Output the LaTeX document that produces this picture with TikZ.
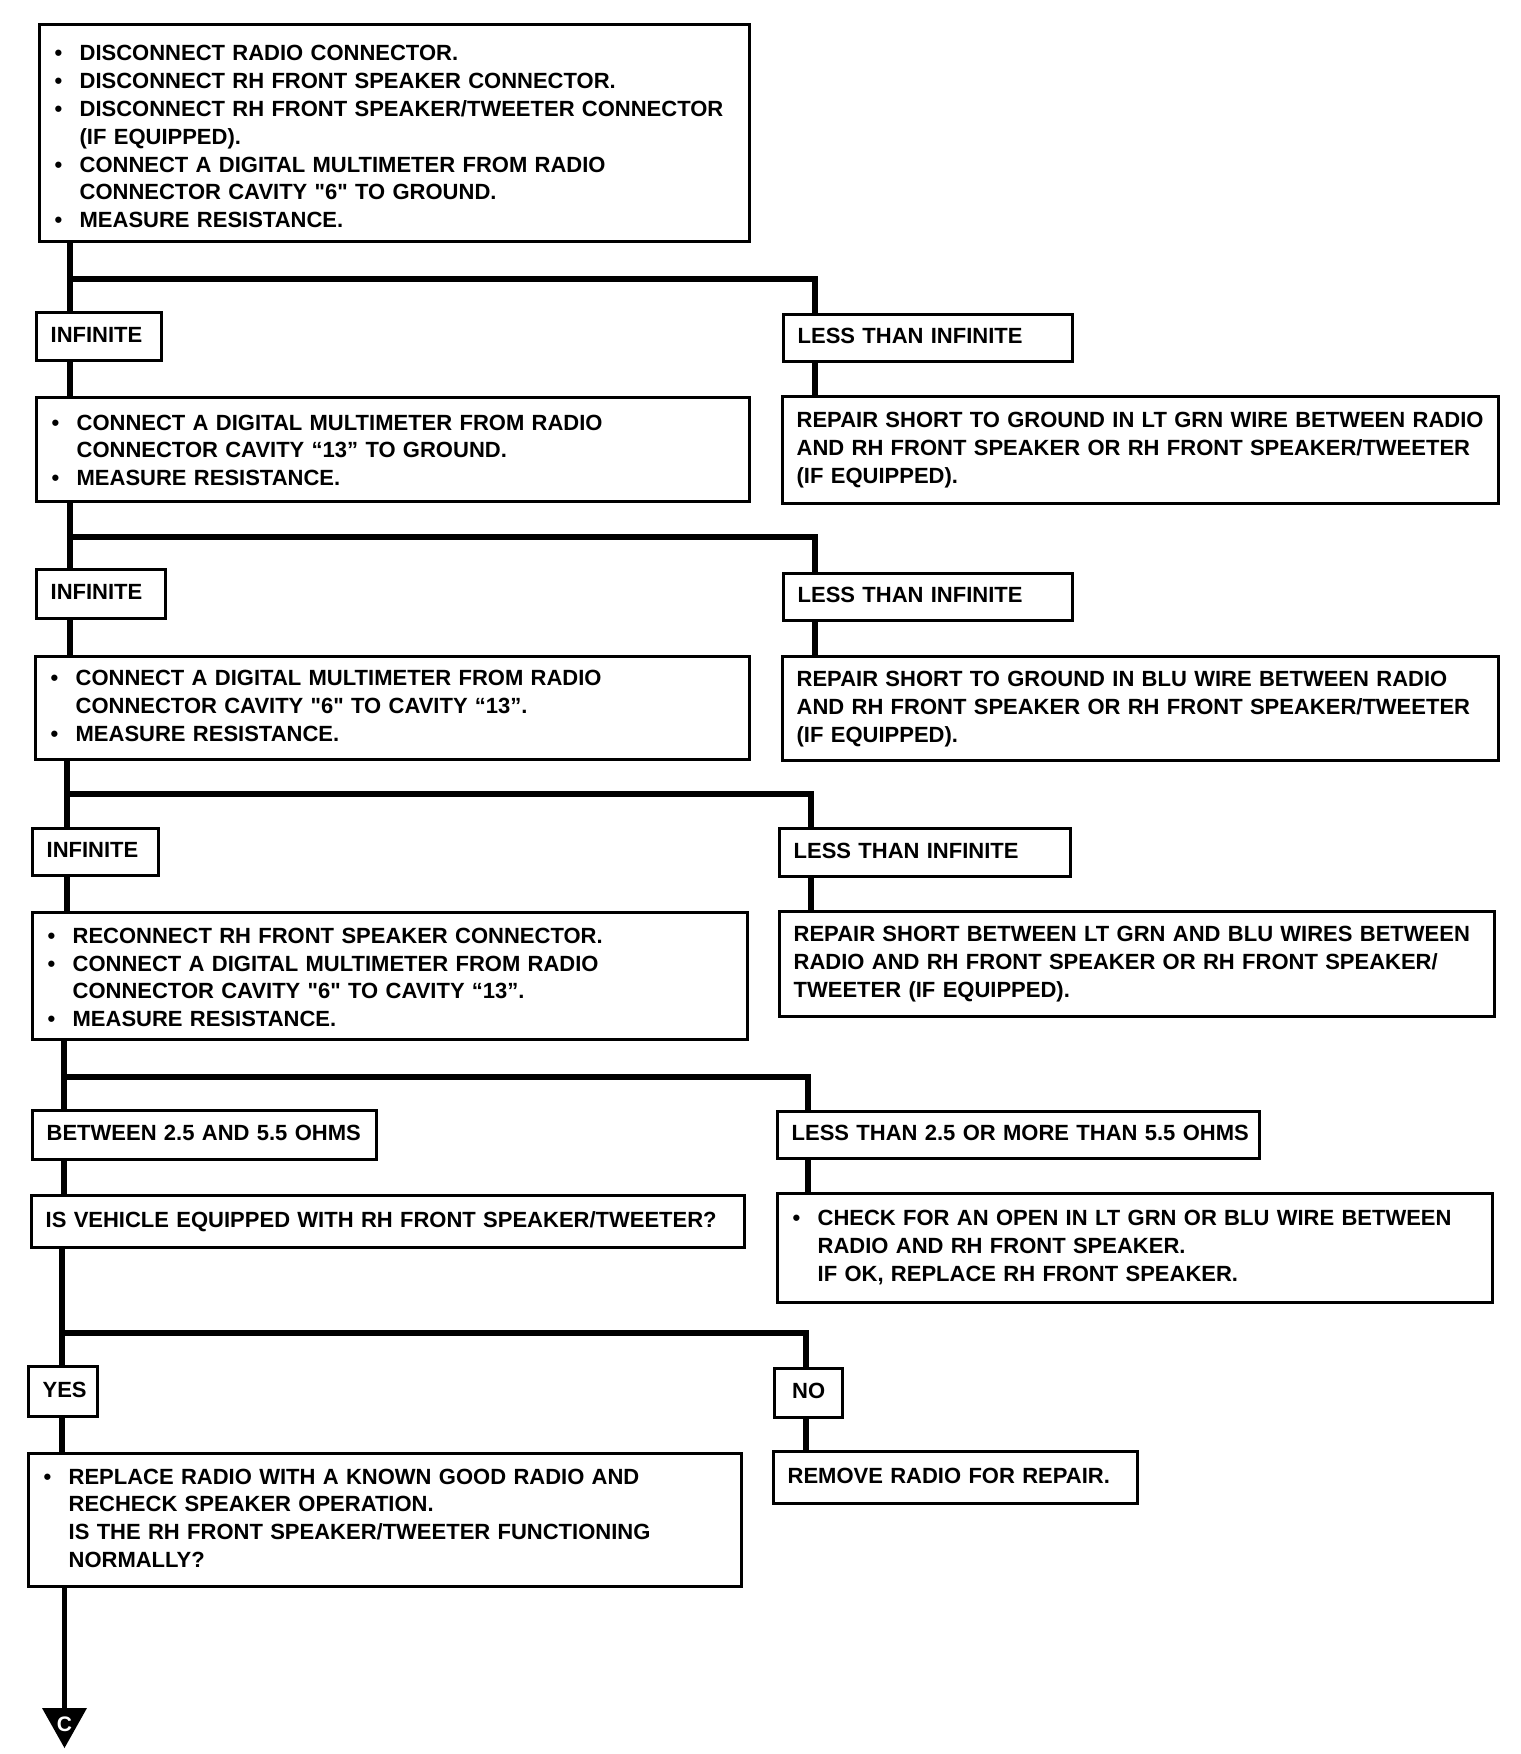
\documentclass[tikz,border=0pt]{standalone}
\usepackage{fontspec}
\setmainfont{Liberation Sans}
\newcommand\bitem{\hspace*{0.5pt}\makebox[12.5pt][l]{•}}
\newcommand\bcont{\hspace*{13pt}}
\newcommand\lns[1]{\begin{tabular}{@{}l@{}}#1\end{tabular}}
\newcommand\qd{\textquotedbl}
\begin{document}
\begin{tikzpicture}[x=0.5pt,y=-0.5pt,
  box/.style={draw, line width=1.65pt, anchor=north west, inner xsep=7pt, inner ysep=0pt, align=left, font=\bfseries\fontsize{11}{13.9}\selectfont},
  cbox/.style={box, align=center},
  trunk/.style={line width=2.75pt, line join=miter}]
\useasboundingbox (0,0) rectangle (1520,1754);

% level 1
\node[box, minimum width=355pt, minimum height=108.5pt, text width=341pt] (b1) at (38,23)
 {\lns{\rule{0pt}{15.3pt}\bitem DISCONNECT RADIO CONNECTOR.\\
 \bitem DISCONNECT RH FRONT SPEAKER CONNECTOR.\\
 \bitem DISCONNECT RH FRONT SPEAKER/TWEETER CONNECTOR\\
 \bcont (IF EQUIPPED).\\
 \bitem CONNECT A DIGITAL MULTIMETER FROM RADIO\\
 \bcont CONNECTOR CAVITY \qd6\qd\ TO GROUND.\\
 \bitem MEASURE RESISTANCE.}};
\node[box, minimum width=62.5pt, minimum height=24pt, text width=48.5pt] (inf1) at (35,311) {\lns{INFINITE}};
\node[box, minimum width=144.5pt, minimum height=23.5pt, text width=130.5pt] (lti1) at (782,313) {\lns{LESS THAN INFINITE}};
\node[box, minimum width=356.5pt, minimum height=52pt, text width=342.5pt] (b2L) at (35,396)
 {\lns{\rule{0pt}{12.5pt}\bitem CONNECT A DIGITAL MULTIMETER FROM RADIO\\
 \bcont CONNECTOR CAVITY “13” TO GROUND.\\
 \bitem MEASURE RESISTANCE.}};
\node[box, minimum width=358pt, minimum height=53.5pt, text width=344pt] (b2R) at (781,395)
 {\lns{REPAIR SHORT TO GROUND IN LT GRN WIRE BETWEEN RADIO\\
 AND RH FRONT SPEAKER OR RH FRONT SPEAKER/TWEETER\\
 (IF EQUIPPED).}};

% level 2
\node[box, minimum width=64.5pt, minimum height=24.5pt, text width=50.5pt] (inf2) at (35,568) {\lns{INFINITE}};
\node[box, minimum width=144.5pt, minimum height=23.5pt, text width=130.5pt] (lti2) at (782,572) {\lns{LESS THAN INFINITE}};
\node[box, minimum width=357pt, minimum height=51.5pt, text width=343pt] (b3L) at (34,655)
 {\lns{\bitem CONNECT A DIGITAL MULTIMETER FROM RADIO\\
 \bcont CONNECTOR CAVITY \qd6\qd\ TO CAVITY “13”.\\
 \bitem MEASURE RESISTANCE.}};
\node[box, minimum width=358pt, minimum height=52pt, text width=344pt] (b3R) at (781,655)
 {\lns{REPAIR SHORT TO GROUND IN BLU WIRE BETWEEN RADIO\\
 AND RH FRONT SPEAKER OR RH FRONT SPEAKER/TWEETER\\
 (IF EQUIPPED).}};

% level 3
\node[box, minimum width=63pt, minimum height=23.5pt, text width=49pt] (inf3) at (31,827) {\lns{INFINITE}};
\node[box, minimum width=145.5pt, minimum height=24pt, text width=131.5pt] (lti3) at (778,827) {\lns{LESS THAN INFINITE}};
\node[box, minimum width=357.5pt, minimum height=63.5pt, text width=343.5pt] (b4L) at (31,911)
 {\lns{\rule{0pt}{13.1pt}\bitem RECONNECT RH FRONT SPEAKER CONNECTOR.\\
 \bitem CONNECT A DIGITAL MULTIMETER FROM RADIO\\
 \bcont CONNECTOR CAVITY \qd6\qd\ TO CAVITY “13”.\\
 \bitem MEASURE RESISTANCE.}};
\node[box, minimum width=357.5pt, minimum height=52.5pt, text width=343.5pt] (b4R) at (778,910)
 {\lns{REPAIR SHORT BETWEEN LT GRN AND BLU WIRES BETWEEN\\
 RADIO AND RH FRONT SPEAKER OR RH FRONT SPEAKER/\\
 TWEETER (IF EQUIPPED).}};

% level 4
\node[box, minimum width=172pt, minimum height=24.5pt, text width=158pt] (btw) at (31,1109) {\lns{BETWEEN 2.5 AND 5.5 OHMS}};
\node[box, minimum width=241pt, minimum height=23.5pt, text width=227pt] (lt25) at (776,1110) {\lns{LESS THAN 2.5 OR MORE THAN 5.5 OHMS}};
\node[box, minimum width=356.5pt, minimum height=26pt, text width=342.5pt] (isv) at (30,1194) {\lns{IS VEHICLE EQUIPPED WITH RH FRONT SPEAKER/TWEETER?}};
\node[box, minimum width=357.5pt, minimum height=54.5pt, text width=343.5pt] (chk) at (776,1192)
 {\lns{\bitem CHECK FOR AN OPEN IN LT GRN OR BLU WIRE BETWEEN\\
 \bcont RADIO AND RH FRONT SPEAKER.\\
 \bcont IF OK, REPLACE RH FRONT SPEAKER.}};

% level 5
\node[cbox, minimum width=34.5pt, minimum height=25pt, text width=20.5pt] (yes) at (27,1365) {\lns{YES}};
\node[cbox, minimum width=34pt, minimum height=24.5pt, text width=20pt] (no) at (773,1367) {\lns{NO}};
\node[box, minimum width=356.5pt, minimum height=66.5pt, text width=342.5pt] (rep) at (27,1452)
 {\lns{\bitem REPLACE RADIO WITH A KNOWN GOOD RADIO AND\\
 \bcont RECHECK SPEAKER OPERATION.\\
 \bcont IS THE RH FRONT SPEAKER/TWEETER FUNCTIONING\\
 \bcont NORMALLY?}};
\node[box, minimum width=182pt, minimum height=26pt, text width=168pt] (rem) at (772,1450) {\lns{REMOVE RADIO FOR REPAIR.}};

% off-page connector
\fill (42,1708) -- (87,1708) -- (64.5,1748) -- cycle;
\node[text=white, font=\bfseries\fontsize{10.5}{12}\selectfont, inner sep=0pt] (offc) at (64.5,1724) {C};
\coordinate (tt) at (64.5,1708);

% connectors
\coordinate (j1) at (70,279);   \coordinate (k1) at (815,279);
\coordinate (j2) at (70,537);   \coordinate (k2) at (815,537);
\coordinate (j3) at (67,794);   \coordinate (k3) at (811,794);
\coordinate (j4) at (64,1077);  \coordinate (k4) at (808,1077);
\coordinate (j5) at (62,1333);  \coordinate (k5) at (806,1333);

\draw[trunk] (b1.south -| j1) -- (inf1.north -| j1);
\draw[trunk] (j1) -- (k1) -- (lti1.north -| k1);
\draw[trunk] (inf1.south -| j1) -- (b2L.north -| j1);
\draw[trunk] (lti1.south -| k1) -- (b2R.north -| k1);

\draw[trunk] (b2L.south -| j2) -- (inf2.north -| j2);
\draw[trunk] (j2) -- (k2) -- (lti2.north -| k2);
\draw[trunk] (inf2.south -| j2) -- (b3L.north -| j2);
\draw[trunk] (lti2.south -| k2) -- (b3R.north -| k2);

\draw[trunk] (b3L.south -| j3) -- (inf3.north -| j3);
\draw[trunk] (j3) -- (k3) -- (lti3.north -| k3);
\draw[trunk] (inf3.south -| j3) -- (b4L.north -| j3);
\draw[trunk] (lti3.south -| k3) -- (b4R.north -| k3);

\draw[trunk] (b4L.south -| j4) -- (btw.north -| j4);
\draw[trunk] (j4) -- (k4) -- (lt25.north -| k4);
\draw[trunk] (btw.south -| j4) -- (isv.north -| j4);
\draw[trunk] (lt25.south -| k4) -- (chk.north -| k4);

\draw[trunk] (isv.south -| j5) -- (yes.north -| j5);
\draw[trunk] (j5) -- (k5) -- (no.north -| k5);
\draw[trunk] (yes.south -| j5) -- (rep.north -| j5);
\draw[trunk] (no.south -| k5) -- (rem.north -| k5);

\draw[trunk] (rep.south -| tt) -- (tt);
\end{tikzpicture}
\end{document}
